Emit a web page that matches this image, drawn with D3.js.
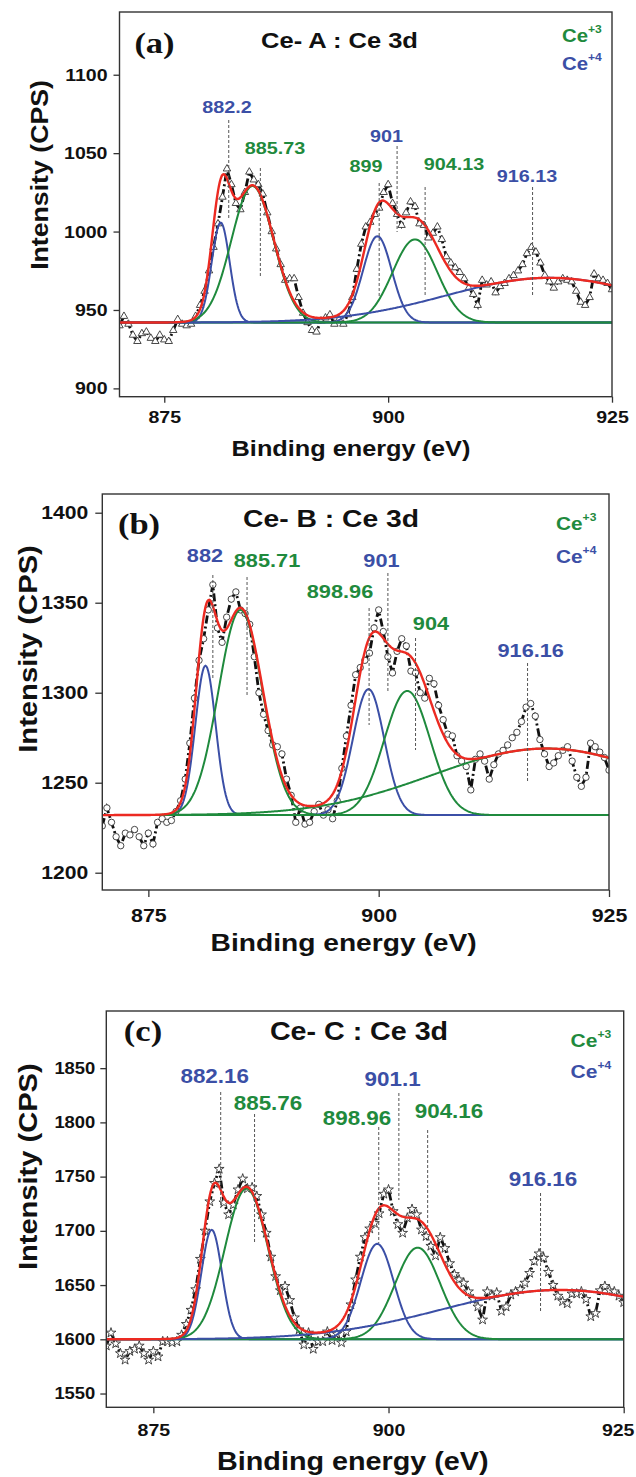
<!DOCTYPE html>
<html>
<head>
<meta charset="utf-8">
<script src="https://cdn.jsdelivr.net/npm/d3@7"></script>
<style>
  body { margin: 0; background: #fff; }
  svg { display: block; }
</style>
</head>
<body>
<svg id="fig" width="636" height="1477"></svg>
<script>
// Binding-energy grid (eV) shared by the three Ce 3d spectra
const energy = d3.range(870, 925.001, 0.5);

// Measured counts (CPS) for sample Ce-A
const countsA = [
  940, 946, 941, 934, 930, 935, 936, 932, 930, 934,
  931, 930, 937, 944, 941, 940, 941, 946, 953, 962,
  975, 990, 1005, 1022, 1040, 1030, 1018, 1014, 1025, 1038,
  1033, 1030, 1024, 1012, 1000, 989, 979, 969, 970, 970,
  958, 948, 942, 937, 936, 943, 945, 947, 941, 944,
  941, 947, 958, 976, 992, 1003, 1006, 1011, 1015, 1025,
  1030, 1018, 1011, 1004, 1012, 1019, 1016, 1005, 1004, 996,
  999, 1003, 995, 984, 980, 977, 974, 970, 964, 960,
  953, 969, 966, 968, 961, 965, 967, 970, 972, 975,
  979, 986, 990, 987, 980, 972, 968, 964, 968, 970,
  969, 968, 962, 955, 953, 958, 973, 970, 969, 967,
  963
];

// Measured counts (CPS) for sample Ce-B
const countsB = [
  1226, 1236, 1228, 1220, 1215, 1222, 1221, 1224, 1220, 1215,
  1222, 1216, 1228, 1230, 1228, 1229, 1234, 1240, 1252, 1272,
  1297, 1318, 1330, 1346, 1360, 1336, 1328, 1342, 1352, 1356,
  1346, 1344, 1338, 1320, 1300, 1288, 1279, 1271, 1270, 1266,
  1252, 1243, 1228, 1236, 1227, 1228, 1234, 1238, 1232, 1235,
  1230, 1240, 1258, 1276, 1293, 1310, 1314, 1318, 1322, 1336,
  1346, 1334, 1320, 1311, 1323, 1330, 1326, 1312, 1311, 1300,
  1297, 1308, 1305, 1293, 1285, 1277, 1276, 1265, 1262, 1259,
  1246, 1263, 1266, 1262, 1252, 1260, 1266, 1268, 1271, 1275,
  1278, 1284, 1292, 1294, 1287, 1274, 1266, 1259, 1261, 1265,
  1268, 1270, 1262, 1253, 1248, 1253, 1272, 1270, 1267, 1264,
  1257
];

// Measured counts (CPS) for sample Ce-C
const countsC = [
  1594, 1606, 1596, 1587, 1581, 1589, 1591, 1594, 1587, 1581,
  1589, 1584, 1598, 1598, 1597, 1598, 1604, 1614, 1627, 1646,
  1674, 1700, 1727, 1744, 1757, 1726, 1715, 1724, 1738, 1748,
  1739, 1740, 1732, 1715, 1698, 1676, 1658, 1645, 1649, 1636,
  1620, 1609, 1595, 1606, 1591, 1598, 1598, 1607, 1599, 1605,
  1597, 1607, 1632, 1655, 1676, 1694, 1702, 1707, 1716, 1734,
  1738, 1718, 1706, 1698, 1712, 1720, 1715, 1701, 1695, 1686,
  1677, 1694, 1684, 1670, 1660, 1655, 1652, 1644, 1637, 1630,
  1618, 1644, 1640, 1643, 1626, 1630, 1641, 1644, 1646, 1652,
  1661, 1672, 1679, 1675, 1662, 1650, 1640, 1635, 1633, 1642,
  1642, 1644, 1637, 1621, 1624, 1645, 1649, 1645, 1644, 1640,
  1634
];

// Peak-fit components: flat background, gaussian centre (eV), height (CPS), sigma (eV), Ce state
const backgroundA = 942;
const fitCentreA = [881.3, 884.85, 898.8, 903.0, 918.0];
const fitHeightA = [63.7, 87, 55, 53, 28.5];
const fitSigmaA  = [1.0, 2.35, 1.6, 2.5, 11.5];
const fitStateA  = ['Ce4', 'Ce3', 'Ce4', 'Ce3', 'Ce4'];

const backgroundB = 1232;
const fitCentreB = [881.2, 885.0, 898.9, 903.1, 918.2];
const fitHeightB = [83, 114, 70, 69, 37];
const fitSigmaB  = [1.1, 2.39, 1.7, 2.5, 12.3];
const fitStateB  = ['Ce4', 'Ce3', 'Ce4', 'Ce3', 'Ce3'];

const backgroundC = 1600;
const fitCentreC = [881.2, 884.9, 898.8, 903.1, 918.2];
const fitHeightC = [101, 139, 88, 84.5, 45.5];
const fitSigmaC  = [1.1, 2.29, 1.75, 2.4, 12.5];
const fitStateC  = ['Ce4', 'Ce3', 'Ce4', 'Ce3', 'Ce4'];

// Annotated peak positions (eV) and their Ce state
const peaksA = [882.2, 885.73, 899, 901, 904.13, 916.13];
const peaksB = [882, 885.71, 898.96, 901, 904, 916.16];
const peaksC = [882.16, 885.76, 898.96, 901.1, 904.16, 916.16];
const peakState = ['Ce4', 'Ce3', 'Ce3', 'Ce4', 'Ce3', 'Ce4'];

// Axis ticks
const xTicks = [875, 900, 925];
const yTicksA = [900, 950, 1000, 1050, 1100];
const yTicksB = [1200, 1250, 1300, 1350, 1400];
const yTicksC = [1550, 1600, 1650, 1700, 1750, 1800, 1850];

const GREEN = '#1f8a3d', BLUE = '#3b4fa6', RED = '#ec2a22';
const FONT = '"Liberation Sans", Arial, Helvetica, sans-serif';
const SERIF = '"Liberation Serif", "Times New Roman", serif';
const WIDE = 1.15; // the lettering is set slightly extended
const colourOf = s => (s === 'Ce3' ? GREEN : BLUE);

const svg = d3.select('#fig');

// place an extended bold text with its anchor at (x, y), optionally rotated
function label(parent, x, y, size, str, opts = {}) {
  const rot = opts.rotate ? ` rotate(${opts.rotate})` : '';
  return parent.append('text')
    .attr('transform', `translate(${x},${y})${rot} scale(${WIDE},1)`)
    .attr('text-anchor', opts.anchor || 'middle')
    .attr('font-family', opts.family || FONT)
    .attr('font-weight', 'bold')
    .attr('font-size', size)
    .attr('fill', opts.fill || '#111')
    .text(str);
}

const panels = [
  {
    letter: '(a)', title: 'Ce- A : Ce 3d', counts: countsA, background: backgroundA,
    centre: fitCentreA, height: fitHeightA, sigma: fitSigmaA, state: fitStateA,
    peaks: peaksA, yTicks: yTicksA,
    marker: d3.symbol(d3.symbolTriangle, 24)(),
    box: { left: 119.5, right: 612, top: 12, bottom: 396.7 }, yDomain: [894.7, 1140],
    yTickFont: 17, xTickFont: 17, tickSize: 6, yTickPad: 6, xTickGap: 14,
    xTitle: [351, 456, 22], yTitle: [48.4, 175, 23.2], head: [339.5, 48, 22.2],
    tag: [154.5, 53, 30], legend: [562, 41.7, 70, 17.7], labelFont: 17.2,
    labelPos: [[227, 113], [275, 154], [366, 171.5], [386.5, 142], [454, 170], [527, 182]],
    guide: [[120, 220], [168, 277], [183, 297], [146, 232], [187, 296], [187, 297]]
  },
  {
    letter: '(b)', title: 'Ce- B : Ce 3d', counts: countsB, background: backgroundB,
    centre: fitCentreB, height: fitHeightB, sigma: fitSigmaB, state: fitStateB,
    peaks: peaksB, yTicks: yTicksB,
    marker: d3.symbol(d3.symbolCircle, 32)(),
    box: { left: 102.3, right: 609, top: 494, bottom: 890 }, yDomain: [1190.4, 1410.4],
    yTickFont: 18.4, xTickFont: 18.6, tickSize: 7, yTickPad: 7, xTickGap: 18.5,
    xTitle: [343.6, 951, 24.5], yTitle: [36.5, 649, 25.4], head: [331, 527, 24.6],
    tag: [139, 533.5, 30], legend: [556, 530, 563, 18.1], labelFont: 18.9,
    labelPos: [[205, 562], [267, 566.7], [340, 598], [381.5, 566.7], [431, 630], [530.7, 657]],
    guide: [[575, 678], [577, 695], [608, 725], [573, 692], [638, 750], [663, 783]]
  },
  {
    letter: '(c)', title: 'Ce- C : Ce 3d', counts: countsC, background: backgroundC,
    centre: fitCentreC, height: fitHeightC, sigma: fitSigmaC, state: fitStateC,
    peaks: peaksC, yTicks: yTicksC,
    marker: d3.symbol(d3.symbolStar, 30)(),
    box: { left: 106.3, right: 623.7, top: 1011, bottom: 1407.3 }, yDomain: [1537.3, 1902.7],
    yTickFont: 16, xTickFont: 17, tickSize: 6, yTickPad: 5, xTickGap: 16.5,
    xTitle: [352.8, 1470, 25], yTitle: [36.5, 1166.7, 25.3], head: [359, 1040, 24.9],
    tag: [143, 1040.5, 30], legend: [570.6, 1046.7, 1078, 18.3], labelFont: 19.5,
    labelPos: [[214.7, 1082.7], [268, 1110], [357, 1125], [392.6, 1085.5], [449, 1118], [543, 1185.5]],
    guide: [[1092, 1208], [1114, 1242], [1127, 1243], [1093, 1200], [1130, 1227], [1193, 1312]]
  }
];

// Fine grid on which the fitted curves are evaluated
const fineGrid = d3.range(870, 925.001, 0.1);
const gauss = (e, c, h, s) => h * Math.exp(-((e - c) ** 2) / (2 * s * s));

panels.forEach((p, idx) => {
  const B = p.box;
  const x = d3.scaleLinear().domain([870, 925]).range([B.left, B.right]);
  const y = d3.scaleLinear().domain(p.yDomain).range([B.bottom, B.top]);
  const g = svg.append('g');

  const clipId = 'plot-clip-' + idx;
  svg.append('clipPath').attr('id', clipId).append('rect')
    .attr('x', B.left).attr('y', B.top)
    .attr('width', B.right - B.left).attr('height', B.bottom - B.top);
  const plot = g.append('g').attr('clip-path', `url(#${clipId})`);

  // dashed guides at the labelled peak energies
  g.selectAll('line.guide').data(p.peaks).join('line')
    .attr('class', 'guide')
    .attr('x1', d => x(d)).attr('x2', d => x(d))
    .attr('y1', (d, i) => p.guide[i][0]).attr('y2', (d, i) => p.guide[i][1])
    .attr('stroke', '#555').attr('stroke-width', 1).attr('stroke-dasharray', '3,2');

  // measured spectrum: dash-dot trace with open markers
  const pts = energy.map((e, i) => [e, p.counts[i]]);
  plot.append('path').datum(pts)
    .attr('d', d3.line().x(d => x(d[0])).y(d => y(d[1])))
    .attr('fill', 'none').attr('stroke', '#111').attr('stroke-width', 2.8)
    .attr('stroke-dasharray', '8,3,2,3');
  plot.selectAll('path.pt').data(pts).join('path')
    .attr('class', 'pt')
    .attr('transform', d => `translate(${x(d[0])},${y(d[1])})`)
    .attr('d', p.marker)
    .attr('fill', '#fff').attr('stroke', '#333').attr('stroke-width', 0.9);

  // fitted components on the flat background
  const line = d3.line().x(d => x(d[0])).y(d => y(d[1]));
  p.centre.forEach((c, k) => {
    const curve = fineGrid.map(e => [e, p.background + gauss(e, c, p.height[k], p.sigma[k])]);
    plot.append('path').datum(curve).attr('d', line)
      .attr('fill', 'none').attr('stroke', colourOf(p.state[k])).attr('stroke-width', 2);
  });

  // fit envelope
  const envelope = fineGrid.map(e => [e, p.background +
    d3.sum(p.centre, (c, k) => gauss(e, c, p.height[k], p.sigma[k]))]);
  plot.append('path').datum(envelope).attr('d', line)
    .attr('fill', 'none').attr('stroke', RED).attr('stroke-width', 2.4);

  // frame
  g.append('rect').attr('x', B.left).attr('y', B.top)
    .attr('width', B.right - B.left).attr('height', B.bottom - B.top)
    .attr('fill', 'none').attr('stroke', '#333').attr('stroke-width', 1.4);

  // axes
  const fmt = d3.format('d');
  const yAxis = g.append('g').attr('transform', `translate(${B.left},0)`)
    .call(d3.axisLeft(y).tickValues(p.yTicks).tickFormat(fmt).tickSize(p.tickSize));
  const xAxis = g.append('g').attr('transform', `translate(0,${B.bottom})`)
    .call(d3.axisBottom(x).tickValues(xTicks).tickFormat(fmt).tickSize(p.tickSize));
  [yAxis, xAxis].forEach(a => {
    a.select('.domain').remove();
    a.selectAll('line').attr('stroke', '#333').attr('stroke-width', 1.3);
    a.selectAll('text').attr('font-family', FONT).attr('font-weight', 'bold').attr('fill', '#111');
  });
  yAxis.selectAll('text')
    .attr('font-size', p.yTickFont)
    .attr('x', null)
    .attr('transform', `translate(${-(p.tickSize + p.yTickPad)},0) scale(${WIDE},1)`);
  xAxis.selectAll('text')
    .attr('font-size', p.xTickFont)
    .attr('y', null).attr('dy', '0.72em')
    .attr('transform', d => {
      // keep the last label inside the page
      const w = p.xTickFont * 1.668 * WIDE / 2;
      const over = Math.max(0, x(d) + w - 634);
      return `translate(${-over},${p.xTickGap}) scale(${WIDE},1)`;
    });

  // axis titles
  label(g, p.xTitle[0], p.xTitle[1], p.xTitle[2], 'Binding energy (eV)');
  label(g, p.yTitle[0], p.yTitle[1], p.yTitle[2], 'Intensity (CPS)', { rotate: -90 });

  // panel heading and letter
  label(g, p.head[0], p.head[1], p.head[2], p.title);
  label(g, p.tag[0], p.tag[1], p.tag[2], p.letter, { family: SERIF });

  // oxidation-state key
  [['Ce3', '+3', p.legend[1]], ['Ce4', '+4', p.legend[2]]].forEach(([s, sup, yy]) => {
    const t = label(g, p.legend[0], yy, p.legend[3], null, { anchor: 'start', fill: colourOf(s) });
    t.append('tspan').text('Ce');
    t.append('tspan').attr('dy', -9).attr('font-size', 10.5).text(sup);
  });

  // peak energy labels
  p.peaks.forEach((d, i) => {
    label(g, p.labelPos[i][0], p.labelPos[i][1], p.labelFont, String(d),
      { fill: colourOf(peakState[i]) });
  });
});
</script>
</body>
</html>
